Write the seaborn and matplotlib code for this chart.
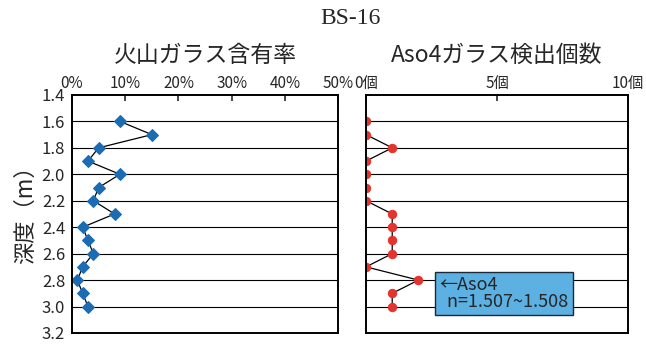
import numpy as np
import pandas as pd
import matplotlib
matplotlib.use("Agg")
import matplotlib.pyplot as plt
import seaborn as sns

# depth of each sample (m)
depth = [1.6, 1.7, 1.8, 1.9, 2.0, 2.1, 2.2, 2.3, 2.4, 2.5, 2.6, 2.7, 2.8, 2.9, 3.0]
# volcanic glass content (%)
glass_pct = [9, 15, 5, 3, 9, 5, 4, 8, 2, 3, 4, 2, 1, 2, 3]
# Aso4 glass count
aso4_count = [0, 0, 1, 0, 0, 0, 0, 1, 1, 1, 1, 0, 2, 1, 1]

pct_ticks = [0, 10, 20, 30, 40, 50]
pct_labels = ["0%", "10%", "20%", "30%", "40%", "50%"]
cnt_ticks = [0, 5, 10]
cnt_labels = ["0個", "5個", "10個"]
depth_ticks = [1.4, 1.6, 1.8, 2.0, 2.2, 2.4, 2.6, 2.8, 3.0, 3.2]

df = pd.DataFrame({"depth": depth, "pct": glass_pct, "cnt": aso4_count})

sns.set_theme(style="white")
plt.rcParams['font.family'] = ['Noto Sans CJK JP', 'DejaVu Sans']

fig = plt.figure(figsize=(6.46, 3.44), dpi=100)
ax1 = fig.add_axes([0.1115, 0.032, 0.412, 0.692])
ax2 = fig.add_axes([0.5666, 0.032, 0.4056, 0.692])

sns.lineplot(data=df, x="pct", y="depth", sort=False, estimator=None, ax=ax1,
             color="black", linewidth=0.9, marker="D", markersize=6.2,
             markerfacecolor="#1c6cb4", markeredgecolor="#1c6cb4")
sns.lineplot(data=df, x="cnt", y="depth", sort=False, estimator=None, ax=ax2,
             color="black", linewidth=0.9, marker="o", markersize=6,
             markerfacecolor="#e5332d", markeredgecolor="#e5332d")

for ax in (ax1, ax2):
    ax.set_ylim(3.2, 1.4)
    ax.set_yticks(depth_ticks)
    for d in depth_ticks[1:-1]:
        ax.axhline(d, color="black", linewidth=0.8, zorder=0)
    ax.xaxis.tick_top()
    ax.tick_params(axis="x", direction="in", length=4, width=1.2, top=True,
                   bottom=False, pad=2, labelsize=11)
    ax.tick_params(axis="y", length=0, labelsize=12, pad=5)
    for s in ax.spines.values():
        s.set_color("black")
        s.set_linewidth(1.4)
    ax.set_xlabel("")
    ax.set_ylabel("")

ax1.set_xlim(0, 50)
ax1.set_xticks(pct_ticks)
ax1.set_xticklabels(pct_labels)
ax2.set_xlim(0, 10)
ax2.set_xticks(cnt_ticks)
ax2.set_xticklabels(cnt_labels)
ax2.set_yticklabels([])

ax1.set_ylabel("深度（m）", fontsize=16)
ax1.yaxis.set_label_coords(-0.13, 0.52)
ax1.set_title("火山ガラス含有率", fontsize=16.5, pad=24)
ax2.set_title("Aso4ガラス検出個数", fontsize=16.5, pad=24)
fig.text(0.542, 0.945, "BS-16", ha="center", va="center", fontsize=17,
         family="Liberation Serif")

ax2.text(2.8, 2.9, "←Aso4\n  n=1.507~1.508", fontsize=13, va="center", ha="left",
         linespacing=0.9,
         bbox=dict(boxstyle="square,pad=0.25", facecolor="#5cb0e2",
                   edgecolor="#1a2a3a", linewidth=1.0))

fig.savefig("out.png", dpi=100)
